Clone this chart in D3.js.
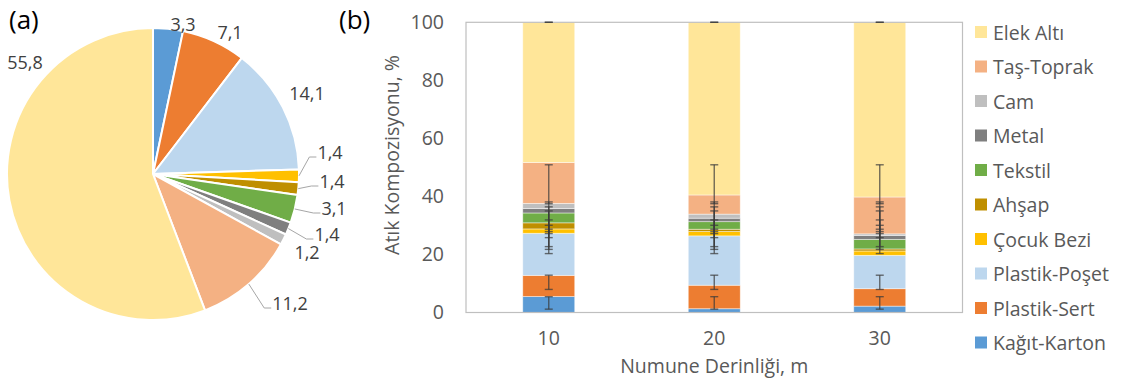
<!DOCTYPE html>
<html>
<head>
<meta charset="utf-8">
<script src="https://cdn.jsdelivr.net/npm/d3@7"></script>
<style>
  html, body { margin: 0; padding: 0; background: #fff; }
  svg { display: block; font-family: "Open Sans", "Noto Sans", sans-serif; }
</style>
</head>
<body>
<svg id="chart" width="1125" height="387"></svg>
<script>
// Waste components, bottom of the stack first
const components = ["Kağıt-Karton", "Plastik-Sert", "Plastik-Poşet", "Çocuk Bezi", "Ahşap",
                    "Tekstil", "Metal", "Cam", "Taş-Toprak", "Elek Altı"];
const colors = ["#5B9BD5", "#ED7D31", "#BDD7EE", "#FFC000", "#BF8F00",
                "#70AD47", "#7F7F7F", "#BFBFBF", "#F4B183", "#FFE699"];

// (a) overall mean composition, %
const overall = [3.3, 7.1, 14.1, 1.4, 1.4, 3.1, 1.4, 1.2, 11.2, 55.8];
const overallLabels = ["3,3", "7,1", "14,1", "1,4", "1,4", "3,1", "1,4", "1,2", "11,2", "55,8"];

// (b) composition by sampling depth, %
const depths = ["10", "20", "30"];
const depth10 = [5.5, 7.3, 14.5, 1.5, 2.1, 3.4, 1.5, 1.8, 14.1, 48.3];
const depth20 = [1.3, 8.1, 17.0, 1.5, 0.8, 2.6, 1.2, 1.4, 6.6, 59.5];
const depth30 = [2.2, 6.0, 11.5, 1.5, 0.7, 3.3, 1.3, 0.6, 12.7, 60.2];
// standard deviations drawn around the cumulative overall mean
const stdDev = [2.15, 2.45, 4.2, 4.15, 4.6, 4.6, 4.6, 5.1, 6.7, 0];
const yTicks = [0, 20, 40, 60, 80, 100];

const svg = d3.select("#chart");
const textColor = "#595959";
const pieFont = 18;
const axisFont = 19.5;

// ---------- (a) pie ----------
const cx = 153, cy = 174, radius = 146;
// label centres relative to the pie centre, and which ones get a leader line
const labelPos = [[30, -150], [77, -142], [154, -81], [177, -22], [179, 7],
                  [181, 34], [174, 60], [154, 78], [137, 129], [-128, -112]];
const hasLeader = [false, false, false, true, true, true, true, false, true, false];

const pieG = svg.append("g").attr("transform", `translate(${cx},${cy})`);
const arcs = d3.pie().sort(null).value(d => d)(overall);
const arc = d3.arc().innerRadius(0).outerRadius(radius);

pieG.selectAll("path.slice").data(arcs).join("path")
  .attr("class", "slice")
  .attr("d", arc)
  .attr("fill", (d, i) => colors[i])
  .attr("stroke", "#fff")
  .attr("stroke-width", 2)
  .attr("stroke-linejoin", "round");

arcs.forEach((d, i) => {
  const [lx, ly] = labelPos[i];
  const t = pieG.append("text")
    .attr("x", lx).attr("y", ly)
    .attr("text-anchor", "middle")
    .attr("dominant-baseline", "central")
    .attr("font-size", pieFont)
    .attr("fill", "#404040")
    .text(overallLabels[i]);
  if (hasLeader[i]) {
    const mid = (d.startAngle + d.endAngle) / 2;
    const ex = radius * Math.sin(mid), ey = -radius * Math.cos(mid);
    const w = t.node().getComputedTextLength();
    const left = lx - w / 2;
    pieG.append("path")
      .attr("d", `M${ex},${ey}L${left - 8},${ly + 5}L${left - 1},${ly + 5}`)
      .attr("fill", "none")
      .attr("stroke", "#a6a6a6")
      .attr("stroke-width", 1);
  }
});

svg.append("text").attr("x", 9).attr("y", 29)
  .attr("font-size", 26).attr("fill", "#000").text("(a)");

// ---------- (b) stacked columns ----------
const plot = { left: 466, right: 962.5, top: 22.3, bottom: 312.5 };
const x = d3.scaleBand().domain(depths).range([plot.left, plot.right])
  .paddingInner(0.686).paddingOuter(0.343);
const y = d3.scaleLinear().domain([0, 100]).range([plot.bottom, plot.top]);

const rows = depths.map((dep, j) => {
  const vals = [depth10, depth20, depth30][j];
  const row = { depth: dep };
  components.forEach((c, i) => row[c] = vals[i]);
  return row;
});
const series = d3.stack().keys(components)(rows);

svg.append("g").selectAll("g").data(series).join("g")
  .attr("fill", (s, i) => colors[i])
  .selectAll("rect").data(s => s).join("rect")
  .attr("x", d => x(d.data.depth))
  .attr("width", x.bandwidth())
  .attr("y", d => y(d[1]))
  .attr("height", d => y(d[0]) - y(d[1]))
  .attr("stroke", "#fff")
  .attr("stroke-opacity", 0.55)
  .attr("stroke-width", 0.8);

// plot area border
svg.append("rect")
  .attr("x", plot.left).attr("y", plot.top)
  .attr("width", plot.right - plot.left).attr("height", plot.bottom - plot.top)
  .attr("fill", "none").attr("stroke", "#bfbfbf").attr("stroke-width", 1.2);

// error bars
const cumMean = d3.cumsum(overall);
const errG = svg.append("g")
  .attr("stroke", "#3a3a3a").attr("stroke-opacity", 0.72).attr("stroke-width", 1.4);
depths.forEach(dep => {
  const xc = x(dep) + x.bandwidth() / 2;
  cumMean.forEach((m, i) => {
    const lo = y(Math.max(0, m - stdDev[i])), hi = y(Math.min(100, m + stdDev[i]));
    if (hi !== lo) errG.append("line").attr("x1", xc).attr("x2", xc).attr("y1", lo).attr("y2", hi);
    [lo, hi].forEach(yy => errG.append("line")
      .attr("x1", xc - 4).attr("x2", xc + 4).attr("y1", yy).attr("y2", yy));
  });
});

// y axis (labels only)
const yAxis = svg.append("g")
  .attr("transform", `translate(${plot.left},0)`)
  .call(d3.axisLeft(y).tickValues(yTicks).tickSize(0).tickPadding(22));
yAxis.select(".domain").remove();
yAxis.selectAll("text").attr("font-size", axisFont).attr("fill", textColor)
  .attr("font-family", "Open Sans");

// x axis (labels only)
const xAxis = svg.append("g")
  .attr("transform", `translate(0,${plot.bottom})`)
  .call(d3.axisBottom(x).tickSize(0).tickPadding(19));
xAxis.select(".domain").remove();
xAxis.selectAll("text").attr("font-size", axisFont).attr("fill", textColor)
  .attr("font-family", "Open Sans");

svg.append("text")
  .attr("x", (plot.left + plot.right) / 2).attr("y", 373)
  .attr("text-anchor", "middle").attr("font-size", axisFont).attr("fill", textColor)
  .text("Numune Derinliği, m");

svg.append("text")
  .attr("transform", "translate(399,155) rotate(-90)")
  .attr("text-anchor", "middle").attr("font-size", axisFont).attr("fill", textColor)
  .text("Atık Kompozisyonu, %");

svg.append("text").attr("x", 339).attr("y", 29)
  .attr("font-size", 26).attr("fill", "#000").text("(b)");

// legend, top entry is the top of the stack
const legendItems = components.map((c, i) => ({ name: c, color: colors[i] })).reverse();
const legend = svg.append("g").attr("transform", "translate(975,32)");
legendItems.forEach((d, k) => {
  const g = legend.append("g").attr("transform", `translate(0,${k * 34.5})`);
  g.append("rect").attr("x", 0).attr("y", -6).attr("width", 12).attr("height", 12).attr("fill", d.color);
  g.append("text").attr("x", 18).attr("y", 0).attr("dominant-baseline", "central")
    .attr("font-size", axisFont).attr("fill", textColor).text(d.name);
});
</script>
</body>
</html>
